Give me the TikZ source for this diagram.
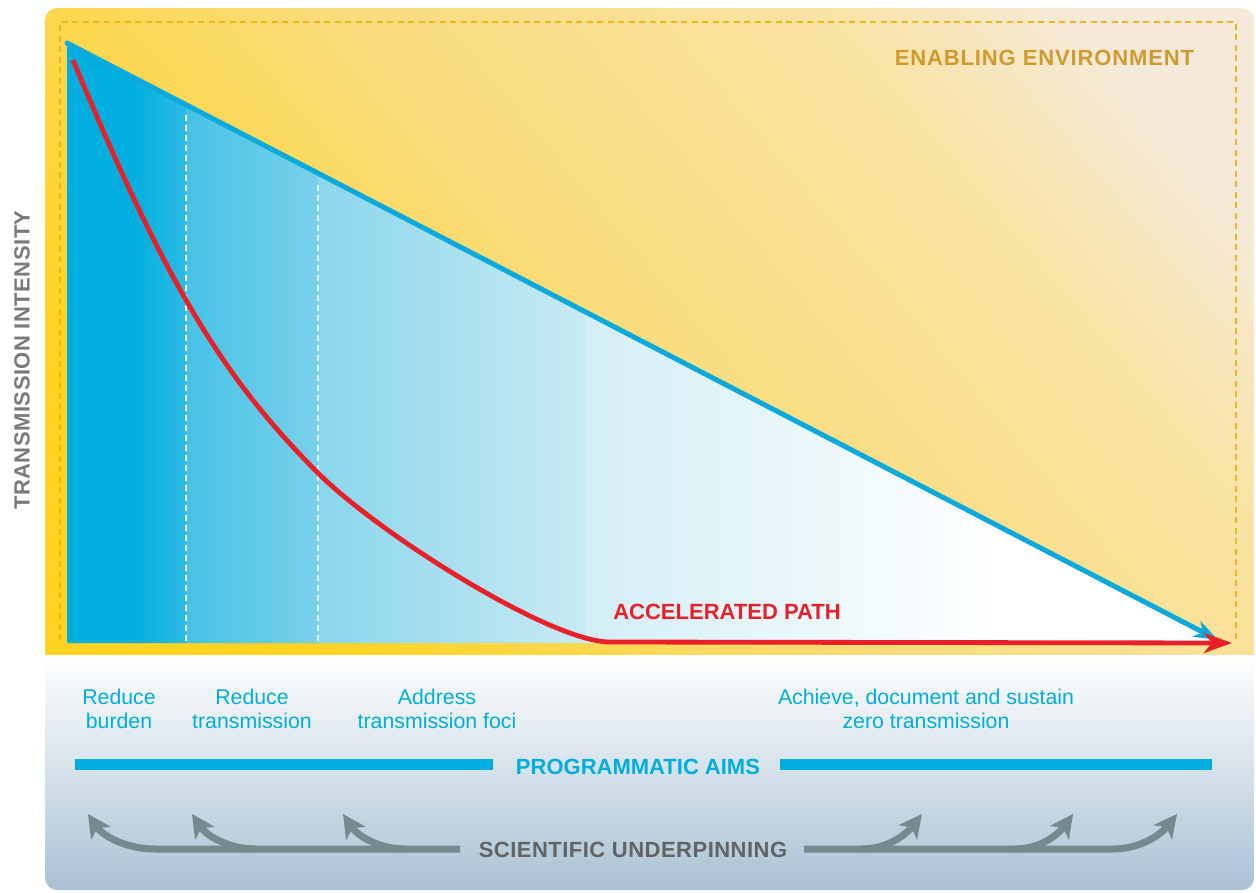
\documentclass[tikz,border=0pt]{standalone}
\usepackage{fontspec}
\setmainfont{Liberation Sans}
\newfontfamily\spacedfont[LetterSpace=4]{Liberation Sans}
\newfontfamily\slightfont[LetterSpace=2.2]{Liberation Sans}
\usetikzlibrary{arrows.meta}
\definecolor{ylw}{HTML}{FFD31F}
\definecolor{ylwmid}{HTML}{F9DC7A}
\definecolor{ylwpale}{HTML}{F9E3A4}
\definecolor{cream}{HTML}{F5EAD9}
\definecolor{dashorange}{HTML}{F2B41E}
\definecolor{tblue}{HTML}{00AEDF}
\definecolor{lblue}{HTML}{0BA9DC}
\definecolor{pathred}{HTML}{E8202A}
\definecolor{envtext}{HTML}{D09A2E}
\definecolor{axisgray}{HTML}{7A7A7A}
\definecolor{scigray}{HTML}{636363}
\definecolor{arrowgray}{HTML}{738A8E}
\definecolor{lowbot}{HTML}{A9C2D4}
\definecolor{lowmid}{HTML}{D5E1EA}
\definecolor{tb1}{HTML}{2CBBE5}
\definecolor{tb2}{HTML}{45C3E7}
\definecolor{tb3}{HTML}{7AD0EA}
\definecolor{tb4}{HTML}{8AD6EC}
\definecolor{tb5}{HTML}{C8EAF3}
\definecolor{tb6}{HTML}{D3EEF6}
\pgfdeclarehorizontalshading{envshade}{100bp}{color(0bp)=(ylw); color(25bp)=(ylw); color(48bp)=(ylwmid); color(68bp)=(ylwpale); color(78bp)=(cream); color(100bp)=(cream)}
\begin{document}
\begin{tikzpicture}[x=1pt,y=-1pt,
  aimtext/.style={text=tblue, align=center, inner sep=0pt, font=\fontsize{21.3}{24}\selectfont},
  boldlabel/.style={inner sep=0pt, font=\fontsize{22}{26}\selectfont\bfseries},
  stagedash/.style={draw=white, line width=2.8pt, dash pattern=on 6pt off 4pt},
  aimbar/.style={draw=tblue, line width=11pt},
  sciarrow/.style={draw=arrowgray, line width=7pt, -{Stealth[length=23pt,width=23pt,inset=6pt]}},
]
\useasboundingbox (0,0) rectangle (1256,892);

% panels
\begin{scope}
  \clip[rounded corners=12pt] (45,8) rectangle (1254,890);
  \shade[shading=envshade, shading angle=40] (45,8) rectangle (1254,655);
  \shade[top color=white, bottom color=lowbot, middle color=lowmid] (45,655) rectangle (1254,890);
\end{scope}

% enabling environment frame
\draw[dashorange, line width=2pt, dash pattern=on 6pt off 4.5pt] (60,640) -- (60,22) -- (1236,22) -- (1236,640);
\node[boldlabel, text=envtext, font=\fontsize{22}{26}\selectfont\bfseries\spacedfont] (env) at (1044.5,58) {ENABLING ENVIRONMENT};

% triangle (transmission region)
\coordinate (top) at (67,43);
\coordinate (origin) at (67,643);
\coordinate (end) at (1218,640);
\begin{scope}
  \clip (67,43) -- (67,643) -- (1218,643) -- cycle;
  \fill[tblue] (60,30) rectangle (130,650);
  \shade[left color=tblue, right color=tb1] (130,30) rectangle (186,650);
  \shade[left color=tb2, right color=tb3] (186,30) rectangle (318,650);
  \shade[left color=tb4, right color=tb5] (318,30) rectangle (585,650);
  \shade[left color=tb6, right color=white] (585,30) rectangle (1000,650);
  \fill[white] (1000,30) rectangle (1230,650);
\end{scope}

% stage boundaries
\coordinate (d1t) at (186,115); \coordinate (d1b) at (186,643);
\coordinate (d2t) at (318,185); \coordinate (d2b) at (318,643);
\coordinate (d3t) at (585,320); \coordinate (d3b) at (585,643);
\draw[stagedash] (d1t) -- (d1b);
\draw[stagedash, draw=white!85!cyan] (d2t) -- (d2b);
\draw[stagedash, draw=white!75!cyan] (d3t) -- (d3b);

% linear path
\draw[lblue, line width=5pt, -{Stealth[length=24pt,width=17pt,inset=7pt]}] (top) -- (end);
\fill[lblue] (top) circle (2.5pt);

% accelerated path
\coordinate (redstart) at (73,60);
\coordinate (redmid) at (318,473);
\coordinate (redflat) at (610,642);
\coordinate (redend) at (1232,643);
\draw[pathred, line width=4.8pt, -{Stealth[length=28pt,width=20pt,inset=8pt]}]
  (redstart) .. controls (163,276) and (218,373) .. (redmid)
  .. controls (378,533) and (550,642) .. (redflat) -- (redend);
\node[boldlabel, text=pathred] (acc) at (727,612) {ACCELERATED PATH};

% axis label
\node[boldlabel, text=axisgray, rotate=90, font=\fontsize{22}{26}\selectfont\bfseries\slightfont] (yaxis) at (22,360) {TRANSMISSION INTENSITY};

% programmatic aims texts
\node[aimtext] (a1) at (119,709) {Reduce\\burden};
\node[aimtext] (a2) at (252,709) {Reduce\\transmission};
\node[aimtext] (a3) at (437,709) {Address\\transmission foci};
\node[aimtext] (a4) at (926,709) {Achieve, document and sustain\\zero transmission};

% programmatic aims bar
\node[boldlabel, text=tblue] (aims) at (638,767) {PROGRAMMATIC AIMS};
\coordinate (pb1) at (75,764.5); \coordinate (pb2) at (493,764.5);
\coordinate (pb3) at (780,764.5); \coordinate (pb4) at (1212,764.5);
\draw[aimbar] (pb1) -- (pb2);
\draw[aimbar] (pb3) -- (pb4);

% scientific underpinning
\node[boldlabel, text=scigray, font=\fontsize{22}{26}\selectfont\bfseries\slightfont] (sci) at (633,850) {SCIENTIFIC UNDERPINNING};
\coordinate (sl) at (460,849);
\coordinate (sr) at (804,849);
\coordinate (t1) at (88,814); \coordinate (t2) at (192,814); \coordinate (t3) at (343,814);
\coordinate (t4) at (922,814); \coordinate (t5) at (1073,814); \coordinate (t6) at (1177,814);
\draw[sciarrow] (sl) -- (155,849) .. controls (125,849) and (102,835) .. (t1);
\draw[sciarrow] (255,849) .. controls (228,849) and (206,835) .. (t2);
\draw[sciarrow] (405,849) .. controls (378,849) and (357,835) .. (t3);
\draw[sciarrow] (sr) -- (1113,849) .. controls (1143,849) and (1163,832) .. (t6);
\draw[sciarrow] (862,849) .. controls (890,849) and (908,832) .. (t4);
\draw[sciarrow] (1015,849) .. controls (1043,849) and (1060,832) .. (t5);
\end{tikzpicture}
\end{document}
